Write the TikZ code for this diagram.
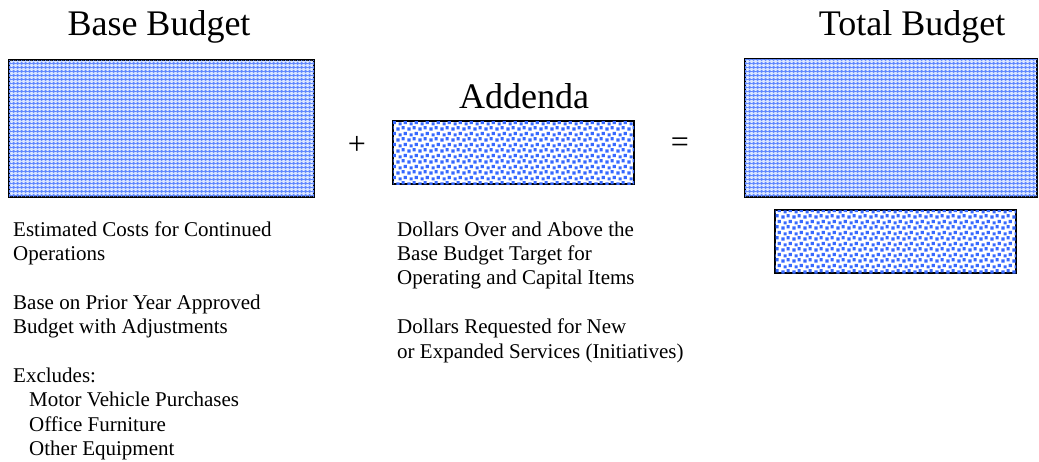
\documentclass[tikz,border=0pt]{standalone}
\usepackage{fontspec}
\setmainfont{Liberation Serif}
\usetikzlibrary{patterns,patterns.meta}
\definecolor{hatchbg}{RGB}{215,228,255}
\definecolor{hatchln}{RGB}{95,135,255}
\definecolor{dotblue}{RGB}{55,105,255}
\tikzdeclarepattern{
  name=bluedots,
  type=colored,
  bounding box={(0pt,0pt) and (11pt,11pt)},
  tile size={(11pt,11pt)},
  code={
    \fill[dotblue] (0.5pt,0.5pt) rectangle ++(3.4pt,3.4pt);
    \fill[dotblue] (6pt,1.8pt) rectangle ++(3.4pt,3.4pt);
    \fill[dotblue] (2.8pt,6pt) rectangle ++(3.4pt,3.4pt);
    \fill[dotblue] (8.2pt,7.4pt) rectangle ++(3.4pt,3.4pt);
  }
}
\tikzdeclarepattern{
  name=bluecross,
  type=colored,
  bounding box={(0pt,0pt) and (4pt,4pt)},
  tile size={(4pt,4pt)},
  code={
    \fill[hatchln] (2pt,0pt) -- (4pt,2pt) -- (2pt,4pt) -- (0pt,2pt) -- cycle;
  }
}
\begin{document}
\begin{tikzpicture}[x=1pt,y=-1pt,
  title/.style={font=\fontsize{36}{40}\selectfont, inner sep=0pt, anchor=base},
  body/.style={font=\fontsize{21}{24}\selectfont, inner sep=0pt, anchor=base west},
  hatchbox/.style={draw=black, line width=1.5pt, fill=hatchbg,
    postaction={pattern=bluecross}},
  dotbox/.style={draw=black, line width=1.5pt, fill=white,
    postaction={pattern=bluedots}},
  op/.style={font=\fontsize{32}{34}\selectfont, inner sep=0pt}
]
\useasboundingbox (0,0) rectangle (1039,461);

% titles
\node[title] (tbase) at (159,35) {Base Budget};
\node[title] (tadd) at (524,108) {Addenda};
\node[title] (ttot) at (912,35) {Total Budget};

% boxes
\draw[hatchbox] (9,60) rectangle (314,197);
\draw[dotbox] (393,121) rectangle (634,184);
\draw[hatchbox] (745,59) rectangle (1037,197);
\draw[dotbox] (775,210) rectangle (1016,273);

% operators
\node[op] (plus) at (357,145) {+};
\node[op] (eq) at (680,145) {=};

% base budget text
\node[body] (b1) at (13,236) {Estimated Costs for Continued};
\node[body] (b2) at (13,260.4) {Operations};
\node[body] (b3) at (13,309.2) {Base on Prior Year Approved};
\node[body] (b4) at (13,333.6) {Budget with Adjustments};
\node[body] (b5) at (13,382.4) {Excludes:};
\node[body] (b6) at (29,406.8) {Motor Vehicle Purchases};
\node[body] (b7) at (29,431.2) {Office Furniture};
\node[body] (b8) at (29,455.6) {Other Equipment};

% addenda text
\node[body] (a1) at (397,236) {Dollars Over and Above the};
\node[body] (a2) at (397,260.4) {Base Budget Target for};
\node[body] (a3) at (397,284.8) {Operating and Capital Items};
\node[body] (a4) at (397,333.6) {Dollars Requested for New};
\node[body] (a5) at (397,358) {or Expanded Services (Initiatives)};
\end{tikzpicture}
\end{document}
